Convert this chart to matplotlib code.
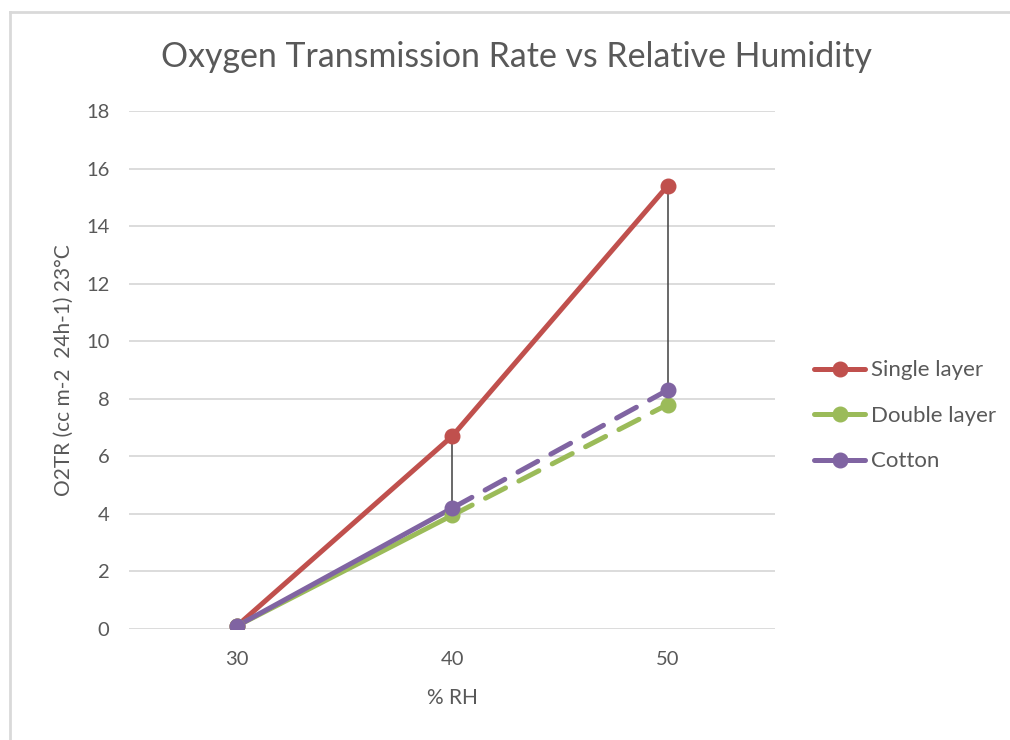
import matplotlib.pyplot as plt
from matplotlib.lines import Line2D

plt.rcParams['font.family'] = ['Lato', 'DejaVu Sans']

rh = [30, 40, 50]
single_layer = [0.1, 6.7, 15.4]
double_layer = [0.1, 3.95, 7.8]
cotton = [0.1, 4.2, 8.3]

series = [
    ('Single layer', single_layer, '#C0504D', False),
    ('Double layer', double_layer, '#9BBB59', True),
    ('Cotton', cotton, '#8064A2', True),
]

txt = '#595959'

fig = plt.figure(figsize=(10.1, 7.4), dpi=100)
ax = fig.add_axes([0.1277, 0.150, 0.640, 0.700])

# chart area border (cut off at the right and bottom like the screenshot)
fig.add_artist(Line2D([9.5 / 1010, 9.5 / 1010], [-0.01, 1 - 12 / 740],
                      transform=fig.transFigure, color='#D9D9D9', lw=2))
fig.add_artist(Line2D([9.5 / 1010, 1.01], [1 - 12 / 740, 1 - 12 / 740],
                      transform=fig.transFigure, color='#D9D9D9', lw=2))

pos = list(range(len(rh)))

# high-low lines
for i in pos:
    vals = [s[1][i] for s in series]
    ax.plot([i, i], [min(vals), max(vals)], color='#404040', lw=1.1, zorder=5)

handles = []
for z, (name, vals, col, dashed) in enumerate(series):
    if dashed:
        ax.plot(pos[:2], vals[:2], color=col, lw=3.6, solid_capstyle='round', zorder=2 + z)
        ax.plot(pos[1:], vals[1:], color=col, lw=3.6, dashes=(4.5, 3),
                dash_capstyle='round', zorder=2 + z)
    else:
        ax.plot(pos, vals, color=col, lw=3.6, solid_capstyle='round', zorder=2 + z)
    ax.plot(pos, vals, ls='none', marker='o', ms=10.5, color=col, zorder=6 + z)
    handles.append(Line2D([], [], color=col, lw=3.6, marker='o', ms=10.5,
                          solid_capstyle='round', label=name))

ax.set_xlim(-0.5, 2.5)
ax.set_ylim(0, 18)
ax.set_yticks(range(0, 19, 2))
ax.set_xticks(pos)
ax.set_xticklabels([str(v) for v in rh])
ax.yaxis.grid(True, color='#D9D9D9', lw=1.3)
ax.set_axisbelow(True)
for s in ax.spines.values():
    s.set_visible(False)
ax.tick_params(length=0, labelsize=14.5, colors=txt)
ax.tick_params(axis='x', pad=16)
ax.tick_params(axis='y', pad=14)

ax.set_xlabel('% RH', fontsize=15, color=txt, labelpad=14)
ax.set_ylabel('O2TR (cc m-2  24h-1) 23°C', fontsize=15, color=txt, labelpad=9)
fig.text(0.5114, 1 - 57 / 740, 'Oxygen Transmission Rate vs Relative Humidity',
         ha='center', va='center', fontsize=24.4, color=txt)

fig.legend(handles=handles, loc='center left', bbox_to_anchor=(0.795, 0.438),
           frameon=False, fontsize=16, labelcolor=txt, handlelength=2.3,
           handletextpad=0.25, labelspacing=1.15, borderpad=0)

fig.savefig('out.png', dpi=100)
